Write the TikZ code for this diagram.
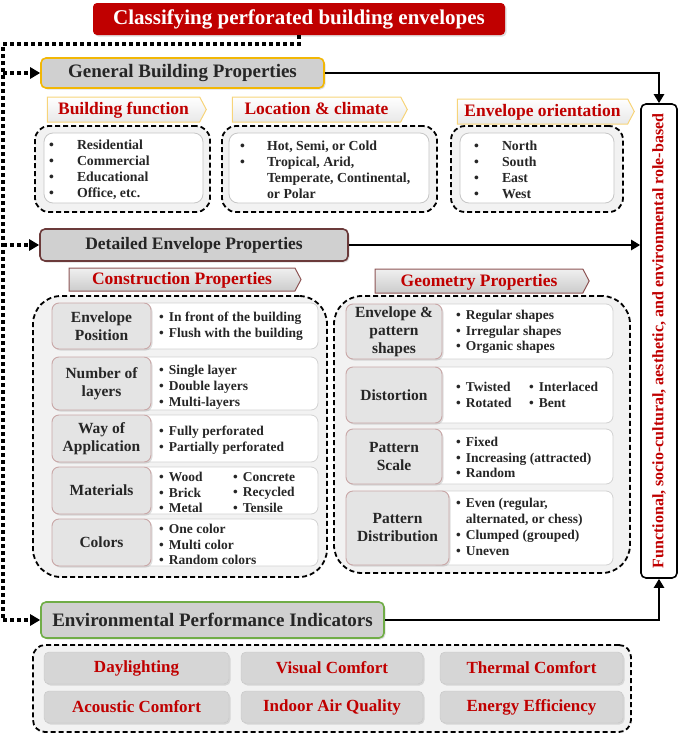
\documentclass[tikz,border=0pt]{standalone}
\usepackage{fontspec}
\setmainfont{Liberation Serif}
\usetikzlibrary{arrows.meta,shapes.symbols,shadows}
\definecolor{tred}{HTML}{C00000}
\definecolor{hgray}{HTML}{D0D0D0}
\definecolor{gold}{HTML}{F2B705}
\definecolor{goldlight}{HTML}{F7D47A}
\definecolor{maroon}{HTML}{6B3A3A}
\definecolor{tabmaroon}{HTML}{8E5555}
\definecolor{egreen}{HTML}{70AD47}
\definecolor{boxbg}{HTML}{F2F2F2}
\definecolor{labfill}{HTML}{E4E4E4}
\definecolor{labborder}{HTML}{C9A7A7}
\definecolor{btngray}{HTML}{D6D6D6}
\newcommand\bl{\textbullet\hspace{5pt}}
\newcommand\bw[1]{\textbullet\hspace{#1}}
\begin{document}
\begin{tikzpicture}[x=1pt,y=-1pt,
  bx/.style n args={4}{minimum width={(#3-#1)*1pt}, minimum height={(#4-#2)*1pt}, at={({(#1+#3)/2},{(#2+#4)/2})}},
  softshadow/.style={drop shadow={opacity=0.25, shadow xshift=1.5pt, shadow yshift=-1.5pt}},
  titlebox/.style={fill=tred, rounded corners=4pt, inner sep=0pt, text=white, font=\fontsize{21}{24}\selectfont\bfseries, softshadow},
  headbox/.style={fill=hgray, rounded corners=5pt, line width=1.6pt, inner sep=0pt, text=black!85, font=\fontsize{19}{22}\selectfont\bfseries, softshadow},
  tabbox/.style={signal, signal to=east, signal pointer angle=124, inner sep=0pt, text=tred, font=\fontsize{17.5}{20}\selectfont\bfseries, line width=1pt, text height=12pt, text depth=2pt},
  outerbox/.style={draw, line width=1.8pt, dash pattern=on 5pt off 3pt, fill=boxbg, inner sep=0pt},
  innerbox/.style={draw=gray!45, fill=white, rounded corners=9pt, inner sep=0pt, line width=0.8pt},
  labbox/.style={draw=labborder, fill=labfill, rounded corners=7pt, inner sep=0pt, line width=0.9pt, align=center, text=black!85, font=\fontsize{15.5}{18}\selectfont\bfseries, softshadow},
  valbox/.style={draw=gray!35, fill=white, rounded corners=7pt, inner sep=0pt, line width=0.8pt},
  itemtext/.style={anchor=west, align=left, inner sep=0pt, text=black!85, font=\fontsize{13.5}{15.8}\selectfont\bfseries},
  toptext/.style={itemtext, font=\fontsize{13.8}{16}\selectfont\bfseries},
  btnbox/.style={fill=btngray, draw=gray!45, rounded corners=5pt, inner sep=0pt, text=tred, font=\fontsize{17}{20}\selectfont\bfseries, softshadow},
  dotline/.style={line width=3.5pt, dash pattern=on 3.5pt off 3.5pt},
  dotarrow/.style={dotline, -{Triangle[length=10pt,width=11pt]}},
  solidarrow/.style={line width=2.5pt, -{Triangle[length=9pt,width=10pt]}}
]
\useasboundingbox (0,0) rectangle (685,734);

% title
\node[titlebox, bx={93}{3}{505}{35}] (title) {Classifying perforated building envelopes};

% side box
\node[draw, fill=white, rounded corners=5pt, line width=1.6pt, inner sep=0pt, bx={641}{104}{677}{578}] (side) {};
\node[rotate=90, text=tred, font=\fontsize{16}{18}\selectfont\bfseries, inner sep=0pt] (sidetext) at (side.center) {Functional, socio-cultural, aesthetic, and environmental role-based};

% general building properties
\node[headbox, draw=gold, bx={41}{58}{324}{88}] (gen) {General Building Properties};

\node[tabbox, draw=goldlight, top color=white, bottom color=gray!18, minimum width=159pt, minimum height=25pt] (tf) at (123.5,109.5) {Building function\hspace{8pt}};
\node[tabbox, draw=goldlight, top color=white, bottom color=gray!18, minimum width=175pt, minimum height=25pt] (tl) at (316.5,109.5) {Location \& climate\hspace{8pt}};
\node[tabbox, draw=goldlight, top color=white, bottom color=gray!18, minimum width=177pt, minimum height=25pt] (to) at (542.5,111.5) {Envelope orientation\hspace{8pt}};

\node[outerbox, rounded corners=14pt, bx={35}{126}{210}{212}] (of) {};
\node[innerbox, bx={44}{133}{203}{203}] (inf) {};
\node[toptext] (lf) at (49,170) {\bw{23pt}Residential\\ \bw{23pt}Commercial\\ \bw{23pt}Educational\\ \bw{23pt}Office, etc.};

\node[outerbox, rounded corners=14pt, bx={222}{126}{437}{212}] (ol) {};
\node[innerbox, bx={229}{133}{429}{203}] (inl) {};
\node[toptext] (ll) at (240,170) {\bw{22pt}Hot, Semi, or Cold\\ \bw{22pt}Tropical, Arid,\\ \phantom{\bw{22pt}}Temperate, Continental,\\ \phantom{\bw{22pt}}or Polar};

\node[outerbox, rounded corners=14pt, bx={451}{126}{623}{212}] (oo) {};
\node[innerbox, bx={460}{133}{614}{203}] (ino) {};
\node[toptext] (lo) at (474,170) {\bw{23pt}North\\ \bw{23pt}South\\ \bw{23pt}East\\ \bw{23pt}West};

% detailed envelope properties
\node[headbox, draw=maroon, bx={40}{229}{348}{261}, font=\fontsize{17.5}{20}\selectfont\bfseries] (det) {Detailed Envelope Properties};

\node[tabbox, draw=tabmaroon, top color=gray!12, bottom color=gray!40, minimum width=232pt, minimum height=23pt] (tc) at (182,279.5) {Construction Properties\hspace{6pt}};
\node[tabbox, draw=tabmaroon, top color=gray!12, bottom color=gray!40, minimum width=214pt, minimum height=24pt] (tg) at (479,281) {Geometry Properties\hspace{6pt}};

% construction box
\node[outerbox, rounded corners=28pt, bx={33}{296}{327}{577}] (oc) {};

\node[valbox, bx={140}{303}{318}{349}] (v1) {};
\node[labbox, bx={52}{303}{151}{349}] (c1) {Envelope\\Position};
\node[itemtext] (i1) at (159,326.5) {\bl In front of the building\\ \bl Flush with the building};

\node[valbox, bx={140}{357}{318}{410}] (v2) {};
\node[labbox, bx={52}{357}{151}{410}] (c2) {Number of\\layers};
\node[itemtext] (i2) at (159,387) {\bl Single layer\\ \bl Double layers\\ \bl Multi-layers};

\node[valbox, bx={140}{415}{318}{462}] (v3) {};
\node[labbox, bx={52}{415}{151}{462}] (c3) {Way of\\Application};
\node[itemtext] (i3) at (159,440.5) {\bl Fully perforated\\ \bl Partially perforated};

\node[valbox, bx={140}{467}{318}{514}] (v4) {};
\node[labbox, bx={52}{467}{151}{514}] (c4) {Materials};
\node[itemtext] (i4a) at (159,492.5) {\bl Wood\\ \bl Brick\\ \bl Metal};
\node[itemtext] (i4b) at (233,492.5) {\bl Concrete\\ \bl Recycled\\ \bl Tensile};

\node[valbox, bx={140}{519}{318}{566}] (v5) {};
\node[labbox, bx={52}{519}{151}{566}] (c5) {Colors};
\node[itemtext] (i5) at (159,544.5) {\bl One color\\ \bl Multi color\\ \bl Random colors};

% geometry box
\node[outerbox, rounded corners=28pt, bx={334}{296}{630}{573}] (og) {};

\node[valbox, bx={430}{304}{613}{359}] (w1) {};
\node[labbox, bx={346}{304}{442}{359}] (g1) {Envelope \&\\pattern\\shapes};
\node[itemtext] (j1) at (456,332) {\bl Regular shapes\\ \bl Irregular shapes\\ \bl Organic shapes};

\node[valbox, bx={430}{367}{613}{423}] (w2) {};
\node[labbox, bx={346}{367}{442}{423}] (g2) {Distortion};
\node[itemtext] (j2a) at (456,395) {\bl Twisted\\ \bl Rotated};
\node[itemtext] (j2b) at (529,395) {\bl Interlaced\\ \bl Bent};

\node[valbox, bx={430}{429}{613}{484}] (w3) {};
\node[labbox, bx={346}{429}{442}{484}] (g3) {Pattern\\Scale};
\node[itemtext] (j3) at (456,457.5) {\bl Fixed\\ \bl Increasing (attracted)\\ \bl Random};

\node[valbox, bx={430}{491}{613}{565}] (w4) {};
\node[labbox, bx={346}{491}{449}{565}] (g4) {Pattern\\Distribution};
\node[itemtext] (j4) at (456,527) {\bl Even (regular,\\ \phantom{\bl}alternated, or chess)\\ \bl Clumped (grouped)\\ \bl Uneven};

% environmental performance indicators
\node[headbox, draw=egreen, bx={41}{602}{384}{638}] (env) {Environmental Performance Indicators};

\node[outerbox, rounded corners=12pt, bx={33}{645}{631}{732}] (oe) {};
\node[btnbox, bx={44}{652}{229}{684}] (b1) {Daylighting};
\node[btnbox, bx={241}{652}{423}{684}] (b2) {Visual Comfort};
\node[btnbox, bx={440}{652}{623}{684}] (b3) {Thermal Comfort};
\node[btnbox, bx={44}{691}{229}{723}] (b4) {Acoustic Comfort};
\node[btnbox, bx={241}{691}{423}{723}] (b5) {Indoor Air Quality};
\node[btnbox, bx={440}{691}{623}{723}] (b6) {Energy Efficiency};

% connectors
\coordinate (d1) at (3,44);
\coordinate (d2) at (3,620);
\draw[dotline] (title.south) |- (d1) -- (d2);
\draw[dotarrow] (gen.west -| d1) -- (gen.west);
\draw[dotarrow] (det.west -| d1) -- (det.west);
\draw[dotarrow] (d2) -- (env.west);

\draw[solidarrow] (gen.east) -| (side.north);
\draw[solidarrow] (det.east) -- (det.east -| side.west);
\draw[solidarrow] (env.east) -| (side.south);
\end{tikzpicture}
\end{document}
